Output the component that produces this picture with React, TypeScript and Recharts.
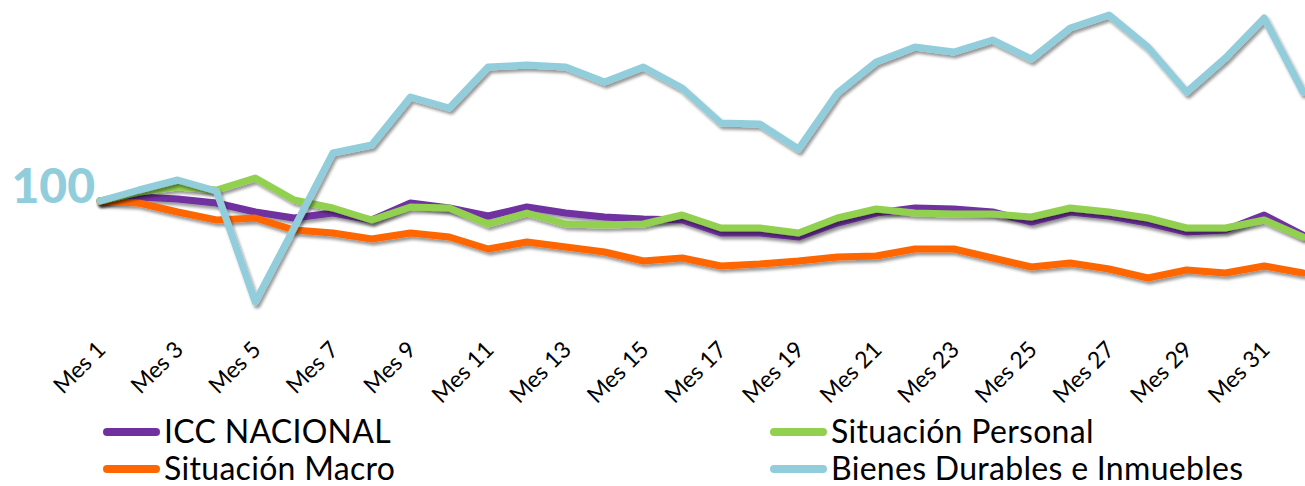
import React from 'react';
import { LineChart, Line, XAxis, YAxis, Legend } from 'recharts';

const months = [
  'Mes 1', 'Mes 2', 'Mes 3', 'Mes 4', 'Mes 5', 'Mes 6', 'Mes 7', 'Mes 8',
  'Mes 9', 'Mes 10', 'Mes 11', 'Mes 12', 'Mes 13', 'Mes 14', 'Mes 15', 'Mes 16',
  'Mes 17', 'Mes 18', 'Mes 19', 'Mes 20', 'Mes 21', 'Mes 22', 'Mes 23', 'Mes 24',
  'Mes 25', 'Mes 26', 'Mes 27', 'Mes 28', 'Mes 29', 'Mes 30', 'Mes 31', 'Mes 32',
];

const iccNacional = [100, 101, 100.5, 99.5, 97.25, 95.75, 97, 95.25, 99.5, 98.25, 96.25, 98.5, 97, 96, 95.5, 95.25, 92, 92, 91, 94.5, 97, 98.25, 98, 97.25, 94.75, 97.25, 96.25, 94.5, 92.25, 92.75, 96.5, 91.5];
const situacionPersonal = [100, 102.25, 103.5, 102.75, 105.75, 100.25, 98.25, 95.25, 98.5, 98.25, 94.25, 97, 94.25, 94, 94.25, 96.5, 93.25, 93.25, 92, 95.75, 98, 97, 96.75, 96.75, 96, 98.25, 97.25, 95.75, 93.25, 93.25, 95.25, 91];
const situacionMacro = [100, 99.5, 97.25, 95.25, 95.75, 92.75, 92, 90.5, 92, 91, 88, 89.75, 88.5, 87.25, 85, 85.75, 83.75, 84.25, 85, 86, 86.25, 88, 88, 85.75, 83.5, 84.5, 83, 80.75, 82.75, 82, 83.75, 82];
const bienesDurables = [100, 102.75, 105.25, 102.5, 74.75, 93.25, 112, 114, 126, 123.25, 133.5, 134, 133.5, 129.75, 133.5, 128.25, 119.5, 119.25, 113, 127, 134.75, 138.5, 137.25, 140.25, 135.5, 143.25, 146.5, 138.5, 127.25, 135.75, 145.75, 127.25];

const seriesNames = ['ICC NACIONAL', 'Situación Personal', 'Situación Macro', 'Bienes Durables e Inmuebles'];
const baseLabel = '100';

const COLORS = {
  icc: '#7030A0',
  personal: '#92D050',
  macro: '#FF6600',
  bienes: '#92CDDC',
};

const FONT = 'Lato, "Noto Sans", sans-serif';

const data = months.map((m, i) => ({
  mes: m,
  icc: iccNacional[i],
  personal: situacionPersonal[i],
  macro: situacionMacro[i],
  bienes: bienesDurables[i],
}));

const Tick = (props: any) => {
  const { x, y, payload } = props;
  const ax = x + 7;
  const ay = y + 30;
  return (
    <text
      x={ax}
      y={ay}
      transform={`rotate(-45 ${ax} ${ay})`}
      textAnchor="end"
      fontFamily={FONT}
      fontSize={23}
      fill="#000"
    >
      {payload.value}
    </text>
  );
};

const legendEntries = [
  { name: seriesNames[0], color: COLORS.icc, col: 0, row: 0 },
  { name: seriesNames[1], color: COLORS.personal, col: 1, row: 0 },
  { name: seriesNames[2], color: COLORS.macro, col: 0, row: 1 },
  { name: seriesNames[3], color: COLORS.bienes, col: 1, row: 1 },
];

const renderLegend = () => (
  <div style={{ position: 'relative', width: 1305, height: 85 }}>
    {legendEntries.map((e) => (
      <div
        key={e.name}
        style={{
          position: 'absolute',
          left: e.col === 0 ? 103 : 770,
          top: e.row === 0 ? 17 : 54,
          height: 26,
          display: 'flex',
          alignItems: 'center',
          fontFamily: FONT,
          fontSize: 32,
          lineHeight: '26px',
          color: '#000',
          whiteSpace: 'nowrap',
        }}
      >
        <span
          style={{
            display: 'inline-block',
            width: 57,
            height: 8,
            borderRadius: 4,
            background: e.color,
            marginRight: 4,
            marginTop: 2,
          }}
        />
        <span style={{ lineHeight: '26px', height: 26, display: 'inline-block', letterSpacing: 0.3 }}>{e.name}</span>
      </div>
    ))}
  </div>
);

const renderBaseLabel = (props: any) => {
  const { x, y, index } = props;
  if (index !== 0) return null;
  return (
    <text
      x={x - 5}
      y={y + 2}
      textAnchor="end"
      fontFamily={FONT}
      fontWeight={900}
      fontSize={48}
      fill={COLORS.bienes}
    >
      {baseLabel}
    </text>
  );
};

export default function App() {
  return (
    <div style={{ position: 'absolute', left: 0, top: 0, width: 1305, height: 486, background: '#fff' }}>
      <LineChart
        width={1305}
        height={486}
        data={data}
        margin={{ top: 1, right: 2, left: 100, bottom: 0 }}
      >
        <defs>
          <filter id="lineShadow" filterUnits="userSpaceOnUse" x="0" y="0" width="1305" height="486">
            <feDropShadow dx="2" dy="3" stdDeviation="1.6" floodColor="#000" floodOpacity="0.4" />
          </filter>
        </defs>
        <XAxis
          dataKey="mes"
          interval={1}
          axisLine={false}
          tickLine={false}
          tickSize={0}
          tickMargin={0}
          height={80}
          tick={<Tick />}
        />
        <YAxis hide domain={[70, 150]} />
        <Legend
          verticalAlign="bottom"
          height={85}
          wrapperStyle={{ left: 0, top: 401, width: 1305, height: 85 }}
          content={renderLegend}
        />
        <Line
          type="linear"
          dataKey="icc"
          name={seriesNames[0]}
          stroke={COLORS.icc}
          strokeWidth={7}
          dot={false}
          strokeLinecap="round"
          strokeLinejoin="round"
          filter="url(#lineShadow)"
          isAnimationActive={false}
        />
        <Line
          type="linear"
          dataKey="macro"
          name={seriesNames[2]}
          stroke={COLORS.macro}
          strokeWidth={7}
          dot={false}
          strokeLinecap="round"
          strokeLinejoin="round"
          filter="url(#lineShadow)"
          isAnimationActive={false}
        />
        <Line
          type="linear"
          dataKey="personal"
          name={seriesNames[1]}
          stroke={COLORS.personal}
          strokeWidth={7}
          dot={false}
          strokeLinecap="round"
          strokeLinejoin="round"
          filter="url(#lineShadow)"
          isAnimationActive={false}
        />
        <Line
          type="linear"
          dataKey="bienes"
          name={seriesNames[3]}
          stroke={COLORS.bienes}
          strokeWidth={7}
          dot={false}
          strokeLinecap="round"
          strokeLinejoin="round"
          filter="url(#lineShadow)"
          label={renderBaseLabel}
          isAnimationActive={false}
        />
      </LineChart>
    </div>
  );
}
